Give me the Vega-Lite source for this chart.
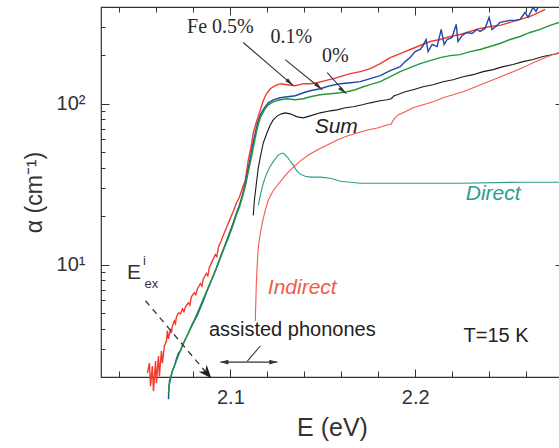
{
 "$schema": "https://vega.github.io/schema/vega-lite/v6.json",
 "width": 462, "height": 370,
 "autosize": "none",
 "padding": {"left": 101, "top": 7, "right": 0, "bottom": 71},
 "background": "white",
 "config": {
  "view": {"stroke": "#333", "strokeWidth": 1.2},
  "font": "Liberation Sans",
  "axis": {"labelFont": "Liberation Sans", "titleFont": "Liberation Sans", "tickColor": "#333", "tickWidth": 1, "labelColor": "#333", "titleColor": "#333", "domain": false, "grid": false}
 },
 "datasets": {
  "curves": [
   {"s":"Fe0.5","E":2.0551,"a":2.113},{"s":"Fe0.5","E":2.0562,"a":2.441},{"s":"Fe0.5","E":2.0568,"a":1.753},{"s":"Fe0.5","E":2.0578,"a":2.338},{"s":"Fe0.5","E":2.0584,"a":1.632},{"s":"Fe0.5","E":2.0595,"a":2.512},{"s":"Fe0.5","E":2.06,"a":1.83},{"s":"Fe0.5","E":2.0611,"a":2.699},{"s":"Fe0.5","E":2.0616,"a":2.024},{"s":"Fe0.5","E":2.0627,"a":2.901},{"s":"Fe0.5","E":2.0632,"a":2.441},{"s":"Fe0.5","E":2.0643,"a":3.117},{"s":"Fe0.5","E":2.0654,"a":3.35},{"s":"Fe0.5","E":2.0659,"a":3.869},{"s":"Fe0.5","E":2.0665,"a":3.447},{"s":"Fe0.5","E":2.0676,"a":3.981},{"s":"Fe0.5","E":2.0681,"a":3.75},{"s":"Fe0.5","E":2.0686,"a":4.157},{"s":"Fe0.5","E":2.0697,"a":4.467},{"s":"Fe0.5","E":2.0703,"a":4.3},{"s":"Fe0.5","E":2.0708,"a":4.732},{"s":"Fe0.5","E":2.0719,"a":5.012},{"s":"Fe0.5","E":2.073,"a":4.941},{"s":"Fe0.5","E":2.0741,"a":5.309},{"s":"Fe0.5","E":2.0749,"a":5.1},{"s":"Fe0.5","E":2.0757,"a":5.464},{"s":"Fe0.5","E":2.0773,"a":5.788},{"s":"Fe0.5","E":2.0781,"a":5.6},{"s":"Fe0.5","E":2.0789,"a":6.31},{"s":"Fe0.5","E":2.0805,"a":6.683},{"s":"Fe0.5","E":2.0813,"a":6.5},{"s":"Fe0.5","E":2.0822,"a":7.079},{"s":"Fe0.5","E":2.0838,"a":7.607},{"s":"Fe0.5","E":2.0846,"a":7.35},{"s":"Fe0.5","E":2.0854,"a":8.175},{"s":"Fe0.5","E":2.087,"a":8.786},{"s":"Fe0.5","E":2.0878,"a":8.5},{"s":"Fe0.5","E":2.0886,"a":9.578},{"s":"Fe0.5","E":2.0903,"a":10.59},{"s":"Fe0.5","E":2.0919,"a":11.55},{"s":"Fe0.5","E":2.0927,"a":11.2},{"s":"Fe0.5","E":2.0935,"a":12.77},{"s":"Fe0.5","E":2.0951,"a":14.13},{"s":"Fe0.5","E":2.0968,"a":15.85},{"s":"Fe0.5","E":2.0984,"a":17.53},{"s":"Fe0.5","E":2.1,"a":19.39},{"s":"Fe0.5","E":2.1016,"a":21.44},{"s":"Fe0.5","E":2.1032,"a":24.06},{"s":"Fe0.5","E":2.1049,"a":26.23},{"s":"Fe0.5","E":2.1065,"a":29.85},{"s":"Fe0.5","E":2.1081,"a":33.5},{"s":"Fe0.5","E":2.1097,"a":44.67},{"s":"Fe0.5","E":2.1114,"a":55.43},{"s":"Fe0.5","E":2.1124,"a":65.88},{"s":"Fe0.5","E":2.1141,"a":77.18},{"s":"Fe0.5","E":2.1157,"a":87.85},{"s":"Fe0.5","E":2.1178,"a":104.4},{"s":"Fe0.5","E":2.1195,"a":115.5},{"s":"Fe0.5","E":2.1216,"a":124.1},{"s":"Fe0.5","E":2.1243,"a":129.6},{"s":"Fe0.5","E":2.127,"a":133.4},{"s":"Fe0.5","E":2.1308,"a":131.5},{"s":"Fe0.5","E":2.1351,"a":129.6},{"s":"Fe0.5","E":2.1395,"a":133.4},{"s":"Fe0.5","E":2.1432,"a":133.4},{"s":"Fe0.5","E":2.147,"a":135.3},{"s":"Fe0.5","E":2.1514,"a":139.3},{"s":"Fe0.5","E":2.1557,"a":143.3},{"s":"Fe0.5","E":2.1595,"a":147.5},{"s":"Fe0.5","E":2.1649,"a":154.0},{"s":"Fe0.5","E":2.1703,"a":158.5},{"s":"Fe0.5","E":2.1757,"a":165.5},{"s":"Fe0.5","E":2.1811,"a":177.8},{"s":"Fe0.5","E":2.1865,"a":193.9},{"s":"Fe0.5","E":2.1919,"a":205.4},{"s":"Fe0.5","E":2.1973,"a":217.6},{"s":"Fe0.5","E":2.2027,"a":230.4},{"s":"Fe0.5","E":2.2081,"a":244.1},{"s":"Fe0.5","E":2.2135,"a":251.2},{"s":"Fe0.5","E":2.2189,"a":262.3},{"s":"Fe0.5","E":2.2243,"a":269.9},{"s":"Fe0.5","E":2.2297,"a":281.8},{"s":"Fe0.5","E":2.2351,"a":294.2},{"s":"Fe0.5","E":2.2405,"a":302.8},{"s":"Fe0.5","E":2.2459,"a":307.3},{"s":"Fe0.5","E":2.2514,"a":320.8},{"s":"Fe0.5","E":2.2568,"a":335.0},{"s":"Fe0.5","E":2.2622,"a":349.9},{"s":"Fe0.5","E":2.2659,"a":365.2},{"s":"Fe0.5","E":2.2703,"a":386.7},

   {"s":"Fe0.1","E":2.0665,"a":1.454},{"s":"Fe0.1","E":2.0668,"a":1.753},{"s":"Fe0.1","E":2.0676,"a":1.939},{"s":"Fe0.1","E":2.0686,"a":2.175},{"s":"Fe0.1","E":2.0697,"a":2.338},{"s":"Fe0.1","E":2.0708,"a":2.585},{"s":"Fe0.1","E":2.0719,"a":2.818},{"s":"Fe0.1","E":2.073,"a":2.901},{"s":"Fe0.1","E":2.0741,"a":3.162},{"s":"Fe0.1","E":2.0757,"a":3.447},{"s":"Fe0.1","E":2.0773,"a":3.758},{"s":"Fe0.1","E":2.0789,"a":4.097},{"s":"Fe0.1","E":2.0805,"a":4.467},{"s":"Fe0.1","E":2.0822,"a":4.87},{"s":"Fe0.1","E":2.0838,"a":5.385},{"s":"Fe0.1","E":2.0854,"a":5.957},{"s":"Fe0.1","E":2.087,"a":6.683},{"s":"Fe0.1","E":2.0886,"a":7.391},{"s":"Fe0.1","E":2.0903,"a":8.295},{"s":"Fe0.1","E":2.0919,"a":9.173},{"s":"Fe0.1","E":2.0935,"a":10.29},{"s":"Fe0.1","E":2.0951,"a":11.55},{"s":"Fe0.1","E":2.0968,"a":12.96},{"s":"Fe0.1","E":2.0984,"a":14.54},{"s":"Fe0.1","E":2.1,"a":16.31},{"s":"Fe0.1","E":2.1016,"a":18.3},{"s":"Fe0.1","E":2.1032,"a":20.83},{"s":"Fe0.1","E":2.1049,"a":23.38},{"s":"Fe0.1","E":2.1065,"a":26.99},{"s":"Fe0.1","E":2.1081,"a":32.08},{"s":"Fe0.1","E":2.1097,"a":39.81},{"s":"Fe0.1","E":2.1114,"a":50.12},{"s":"Fe0.1","E":2.113,"a":62.2},{"s":"Fe0.1","E":2.1146,"a":74.99},{"s":"Fe0.1","E":2.1162,"a":85.35},{"s":"Fe0.1","E":2.1184,"a":94.41},{"s":"Fe0.1","E":2.1205,"a":101.4},{"s":"Fe0.1","E":2.1232,"a":105.9},{"s":"Fe0.1","E":2.127,"a":109.0},{"s":"Fe0.1","E":2.1308,"a":110.6},{"s":"Fe0.1","E":2.1351,"a":112.2},{"s":"Fe0.1","E":2.1395,"a":117.2},{"s":"Fe0.1","E":2.1432,"a":120.6},{"s":"Fe0.1","E":2.1486,"a":124.1},{"s":"Fe0.1","E":2.1541,"a":129.6},{"s":"Fe0.1","E":2.1595,"a":133.4},{"s":"Fe0.1","E":2.1649,"a":135.3},{"s":"Fe0.1","E":2.1703,"a":137.3},{"s":"Fe0.1","E":2.1757,"a":143.3},{"s":"Fe0.1","E":2.1811,"a":149.6},{"s":"Fe0.1","E":2.1865,"a":160.8},{"s":"Fe0.1","E":2.1919,"a":170.3},{"s":"Fe0.1","E":2.1946,"a":183.0},{"s":"Fe0.1","E":2.1973,"a":193.9},{"s":"Fe0.1","E":2.2,"a":211.3},{"s":"Fe0.1","E":2.2027,"a":217.6},{"s":"Fe0.1","E":2.2043,"a":230.4},{"s":"Fe0.1","E":2.2059,"a":251.2},{"s":"Fe0.1","E":2.207,"a":211.3},{"s":"Fe0.1","E":2.2092,"a":233.8},{"s":"Fe0.1","E":2.2119,"a":227.1},{"s":"Fe0.1","E":2.2141,"a":290.1},{"s":"Fe0.1","E":2.2157,"a":233.8},{"s":"Fe0.1","E":2.2173,"a":251.2},{"s":"Fe0.1","E":2.22,"a":258.5},{"s":"Fe0.1","E":2.2222,"a":311.7},{"s":"Fe0.1","E":2.2232,"a":244.1},{"s":"Fe0.1","E":2.2254,"a":266.1},{"s":"Fe0.1","E":2.2281,"a":277.8},{"s":"Fe0.1","E":2.2308,"a":273.8},{"s":"Fe0.1","E":2.2335,"a":290.1},{"s":"Fe0.1","E":2.2351,"a":281.8},{"s":"Fe0.1","E":2.2378,"a":294.2},{"s":"Fe0.1","E":2.24,"a":344.7},{"s":"Fe0.1","E":2.2416,"a":290.1},{"s":"Fe0.1","E":2.2443,"a":307.3},{"s":"Fe0.1","E":2.2459,"a":320.8},{"s":"Fe0.1","E":2.2486,"a":325.4},{"s":"Fe0.1","E":2.2514,"a":330.2},{"s":"Fe0.1","E":2.2541,"a":330.2},{"s":"Fe0.1","E":2.2568,"a":335.0},{"s":"Fe0.1","E":2.2595,"a":370.5},{"s":"Fe0.1","E":2.2611,"a":344.7},{"s":"Fe0.1","E":2.2638,"a":398.0},{"s":"Fe0.1","E":2.2654,"a":375.8},{"s":"Fe0.1","E":2.2665,"a":398.0},

   {"s":"Fe0","E":2.0665,"a":1.585},{"s":"Fe0","E":2.067,"a":1.884},{"s":"Fe0","E":2.0681,"a":2.084},{"s":"Fe0","E":2.0692,"a":2.271},{"s":"Fe0","E":2.0708,"a":2.512},{"s":"Fe0","E":2.0724,"a":2.818},{"s":"Fe0","E":2.0741,"a":3.117},{"s":"Fe0","E":2.0757,"a":3.447},{"s":"Fe0","E":2.0773,"a":3.758},{"s":"Fe0","E":2.0789,"a":4.157},{"s":"Fe0","E":2.0805,"a":4.531},{"s":"Fe0","E":2.0822,"a":5.012},{"s":"Fe0","E":2.0838,"a":5.543},{"s":"Fe0","E":2.0854,"a":6.131},{"s":"Fe0","E":2.087,"a":6.78},{"s":"Fe0","E":2.0886,"a":7.499},{"s":"Fe0","E":2.0903,"a":8.295},{"s":"Fe0","E":2.0919,"a":9.173},{"s":"Fe0","E":2.0935,"a":10.14},{"s":"Fe0","E":2.0951,"a":11.38},{"s":"Fe0","E":2.0968,"a":12.77},{"s":"Fe0","E":2.0984,"a":14.13},{"s":"Fe0","E":2.1,"a":15.85},{"s":"Fe0","E":2.1016,"a":17.78},{"s":"Fe0","E":2.1032,"a":20.25},{"s":"Fe0","E":2.1049,"a":22.71},{"s":"Fe0","E":2.1065,"a":26.23},{"s":"Fe0","E":2.1081,"a":30.72},{"s":"Fe0","E":2.1097,"a":37.58},{"s":"Fe0","E":2.1114,"a":46.66},{"s":"Fe0","E":2.113,"a":57.88},{"s":"Fe0","E":2.1146,"a":70.79},{"s":"Fe0","E":2.1162,"a":81.75},{"s":"Fe0","E":2.1184,"a":91.73},{"s":"Fe0","E":2.1205,"a":98.57},{"s":"Fe0","E":2.1232,"a":102.9},{"s":"Fe0","E":2.127,"a":105.9},{"s":"Fe0","E":2.1308,"a":107.5},{"s":"Fe0","E":2.1351,"a":105.9},{"s":"Fe0","E":2.1395,"a":107.5},{"s":"Fe0","E":2.1432,"a":110.6},{"s":"Fe0","E":2.1486,"a":113.8},{"s":"Fe0","E":2.1541,"a":115.5},{"s":"Fe0","E":2.1595,"a":117.2},{"s":"Fe0","E":2.1632,"a":118.9},{"s":"Fe0","E":2.1676,"a":122.3},{"s":"Fe0","E":2.1719,"a":127.7},{"s":"Fe0","E":2.1757,"a":131.5},{"s":"Fe0","E":2.1811,"a":137.3},{"s":"Fe0","E":2.1865,"a":147.5},{"s":"Fe0","E":2.1919,"a":158.5},{"s":"Fe0","E":2.1973,"a":167.9},{"s":"Fe0","E":2.2027,"a":177.8},{"s":"Fe0","E":2.2081,"a":185.7},{"s":"Fe0","E":2.2135,"a":193.9},{"s":"Fe0","E":2.2189,"a":199.5},{"s":"Fe0","E":2.2243,"a":202.4},{"s":"Fe0","E":2.2297,"a":211.3},{"s":"Fe0","E":2.2351,"a":217.6},{"s":"Fe0","E":2.2405,"a":227.1},{"s":"Fe0","E":2.2459,"a":237.1},{"s":"Fe0","E":2.2514,"a":251.2},{"s":"Fe0","E":2.2568,"a":262.3},{"s":"Fe0","E":2.2622,"a":277.8},{"s":"Fe0","E":2.2676,"a":290.1},{"s":"Fe0","E":2.273,"a":307.3},{"s":"Fe0","E":2.2795,"a":325.4},

   {"s":"Sum","E":2.1124,"a":20.25},{"s":"Sum","E":2.113,"a":25.12},{"s":"Sum","E":2.1141,"a":32.08},{"s":"Sum","E":2.1151,"a":39.81},{"s":"Sum","E":2.1162,"a":46.66},{"s":"Sum","E":2.1178,"a":57.05},{"s":"Sum","E":2.12,"a":66.83},{"s":"Sum","E":2.1216,"a":73.91},{"s":"Sum","E":2.1232,"a":79.43},{"s":"Sum","E":2.1254,"a":84.14},{"s":"Sum","E":2.1276,"a":86.6},{"s":"Sum","E":2.1297,"a":87.86},{"s":"Sum","E":2.1324,"a":86.6},{"s":"Sum","E":2.1362,"a":82.94},{"s":"Sum","E":2.1395,"a":81.75},{"s":"Sum","E":2.1432,"a":84.14},{"s":"Sum","E":2.1486,"a":87.86},{"s":"Sum","E":2.1541,"a":90.43},{"s":"Sum","E":2.1578,"a":91.73},{"s":"Sum","E":2.1622,"a":94.41},{"s":"Sum","E":2.1665,"a":95.78},{"s":"Sum","E":2.1714,"a":98.57},{"s":"Sum","E":2.1757,"a":101.4},{"s":"Sum","E":2.1811,"a":104.4},{"s":"Sum","E":2.1849,"a":105.9},{"s":"Sum","E":2.187,"a":107.5},{"s":"Sum","E":2.1886,"a":112.2},{"s":"Sum","E":2.1903,"a":113.8},{"s":"Sum","E":2.1946,"a":118.9},{"s":"Sum","E":2.1989,"a":122.3},{"s":"Sum","E":2.2043,"a":127.7},{"s":"Sum","E":2.2097,"a":131.5},{"s":"Sum","E":2.2151,"a":137.3},{"s":"Sum","E":2.2205,"a":141.3},{"s":"Sum","E":2.2259,"a":147.5},{"s":"Sum","E":2.2314,"a":151.8},{"s":"Sum","E":2.2368,"a":158.5},{"s":"Sum","E":2.2422,"a":163.1},{"s":"Sum","E":2.2476,"a":170.3},{"s":"Sum","E":2.253,"a":175.4},{"s":"Sum","E":2.2584,"a":183.0},{"s":"Sum","E":2.2638,"a":188.4},{"s":"Sum","E":2.2692,"a":196.7},{"s":"Sum","E":2.2746,"a":202.4},{"s":"Sum","E":2.2795,"a":208.4},

   {"s":"Direct","E":2.1151,"a":23.38},{"s":"Direct","E":2.1162,"a":26.99},{"s":"Direct","E":2.1178,"a":32.08},{"s":"Direct","E":2.1195,"a":36.52},{"s":"Direct","E":2.1216,"a":40.97},{"s":"Direct","E":2.1238,"a":44.67},{"s":"Direct","E":2.1259,"a":48.0},{"s":"Direct","E":2.1281,"a":49.4},{"s":"Direct","E":2.1292,"a":48.7},{"s":"Direct","E":2.1308,"a":46.66},{"s":"Direct","E":2.1324,"a":44.04},{"s":"Direct","E":2.1341,"a":41.57},{"s":"Direct","E":2.1357,"a":38.68},{"s":"Direct","E":2.1378,"a":36.52},{"s":"Direct","E":2.1405,"a":35.48},{"s":"Direct","E":2.1432,"a":34.98},{"s":"Direct","E":2.1486,"a":34.98},{"s":"Direct","E":2.1541,"a":34.47},{"s":"Direct","E":2.1595,"a":33.02},{"s":"Direct","E":2.1649,"a":32.55},{"s":"Direct","E":2.1703,"a":32.08},{"s":"Direct","E":2.1919,"a":32.08},{"s":"Direct","E":2.2243,"a":32.08},{"s":"Direct","E":2.2568,"a":32.55},{"s":"Direct","E":2.2795,"a":32.55},

   {"s":"Indirect","E":2.1135,"a":4.467},{"s":"Indirect","E":2.1138,"a":5.957},{"s":"Indirect","E":2.1141,"a":7.943},{"s":"Indirect","E":2.1146,"a":10.29},{"s":"Indirect","E":2.1151,"a":12.77},{"s":"Indirect","E":2.1162,"a":15.62},{"s":"Indirect","E":2.1173,"a":18.3},{"s":"Indirect","E":2.1189,"a":21.75},{"s":"Indirect","E":2.1205,"a":25.12},{"s":"Indirect","E":2.1227,"a":28.18},{"s":"Indirect","E":2.1254,"a":31.17},{"s":"Indirect","E":2.1281,"a":33.98},{"s":"Indirect","E":2.1308,"a":37.05},{"s":"Indirect","E":2.1341,"a":40.38},{"s":"Indirect","E":2.1378,"a":44.04},{"s":"Indirect","E":2.1422,"a":48.0},{"s":"Indirect","E":2.147,"a":51.58},{"s":"Indirect","E":2.1524,"a":55.43},{"s":"Indirect","E":2.1578,"a":59.57},{"s":"Indirect","E":2.1632,"a":63.1},{"s":"Indirect","E":2.1686,"a":65.88},{"s":"Indirect","E":2.1741,"a":68.79},{"s":"Indirect","E":2.1795,"a":70.79},{"s":"Indirect","E":2.1849,"a":73.91},{"s":"Indirect","E":2.187,"a":74.99},{"s":"Indirect","E":2.1886,"a":80.58},{"s":"Indirect","E":2.1908,"a":85.35},{"s":"Indirect","E":2.1946,"a":89.13},{"s":"Indirect","E":2.1989,"a":94.41},{"s":"Indirect","E":2.2043,"a":98.57},{"s":"Indirect","E":2.2097,"a":102.9},{"s":"Indirect","E":2.2151,"a":109.0},{"s":"Indirect","E":2.2205,"a":113.8},{"s":"Indirect","E":2.2259,"a":118.9},{"s":"Indirect","E":2.2314,"a":125.9},{"s":"Indirect","E":2.2368,"a":133.4},{"s":"Indirect","E":2.2422,"a":141.3},{"s":"Indirect","E":2.2476,"a":149.6},{"s":"Indirect","E":2.253,"a":158.5},{"s":"Indirect","E":2.2584,"a":167.9},{"s":"Indirect","E":2.2638,"a":180.3},{"s":"Indirect","E":2.2692,"a":191.1},{"s":"Indirect","E":2.2746,"a":202.4},{"s":"Indirect","E":2.2795,"a":211.3}
  ],
  "arrows": [
   {"E":2.107,"a":240.6,"E2":2.1341,"a2":129.6},
   {"E":2.1297,"a":188.4,"E2":2.1497,"a2":122.3},
   {"E":2.1524,"a":156.2,"E2":2.1627,"a2":115.5}
  ]
 },
 "layer": [
  {
   "data": {"name": "curves"},
   "transform": [{"filter": "datum.s == 'Fe0.5'"}],
   "mark": {"type": "line", "color": "#f03c2c", "strokeWidth": 1.4, "clip": false},
   "encoding": {
    "x": {"field": "E", "type": "quantitative", "scale": {"type": "linear", "domain": [2.03, 2.28], "nice": false, "zero": false},
          "axis": {"orient": "bottom", "values": [2.1, 2.2], "format": ".1f", "ticks": false, "labelPadding": 10, "labelFontSize": 20, "labelFlush": false, "title": "E (eV)", "titleFontSize": 25, "titleFontWeight": "normal", "titlePadding": 8}},
    "y": {"field": "a", "type": "quantitative", "scale": {"type": "log", "domain": [2, 400], "nice": false},
          "axis": {"orient": "left", "values": [10, 100], "ticks": false, "labelExpr": "datum.value == 10 ? '10¹' : '10²'", "labelPadding": 16, "labelFontSize": 20, "title": "α (cm⁻¹)", "titleFontSize": 23, "titleFontWeight": "normal", "titlePadding": 10}}
   }
  },
  {
   "data": {"name": "curves"},
   "transform": [{"filter": "datum.s == 'Fe0.1'"}],
   "mark": {"type": "line", "color": "#2347a8", "strokeWidth": 1.4, "clip": false},
   "encoding": {
    "x": {"field": "E", "type": "quantitative", "scale": {"type": "linear", "domain": [2.03, 2.28], "nice": false, "zero": false},
          "axis": {"orient": "bottom", "values": [2.1, 2.2], "labels": false, "tickSize": -8, "title": null}},
    "y": {"field": "a", "type": "quantitative", "scale": {"type": "log", "domain": [2, 400], "nice": false},
          "axis": {"orient": "left", "values": [10, 100], "labels": false, "tickSize": -8, "title": null}}
   }
  },
  {
   "data": {"name": "curves"},
   "transform": [{"filter": "datum.s == 'Fe0'"}],
   "mark": {"type": "line", "color": "#22993a", "strokeWidth": 1.4, "clip": false},
   "encoding": {
    "x": {"field": "E", "type": "quantitative", "scale": {"type": "linear", "domain": [2.03, 2.28], "nice": false, "zero": false},
          "axis": {"orient": "bottom", "values": [2.04, 2.06, 2.08, 2.12, 2.14, 2.16, 2.18, 2.22, 2.24, 2.26], "labels": false, "tickSize": -6, "title": null}},
    "y": {"field": "a", "type": "quantitative", "scale": {"type": "log", "domain": [2, 400], "nice": false},
          "axis": {"orient": "left", "values": [3, 4, 5, 6, 7, 8, 9, 20, 30, 40, 50, 60, 70, 80, 90, 200, 300], "labels": false, "tickSize": -4, "title": null}}
   }
  },
  {
   "data": {"name": "curves"},
   "transform": [{"filter": "datum.s == 'Sum' || datum.s == 'Direct' || datum.s == 'Indirect'"}],
   "mark": {"type": "line", "strokeWidth": 1.1, "clip": false},
   "encoding": {
    "x": {"field": "E", "type": "quantitative", "scale": {"type": "linear", "domain": [2.03, 2.28], "nice": false, "zero": false},
          "axis": {"orient": "top", "values": [2.1, 2.2], "labels": false, "tickSize": -8, "title": null}},
    "y": {"field": "a", "type": "quantitative", "scale": {"type": "log", "domain": [2, 400], "nice": false},
          "axis": {"orient": "right", "values": [10, 100], "labels": false, "tickSize": -8, "title": null}},
    "color": {"field": "s", "type": "nominal", "scale": {"domain": ["Sum", "Direct", "Indirect"], "range": ["#1a1a1a", "#2a9d8f", "#f25a4a"]}, "legend": null}
   }
  },
  {
   "data": {"name": "arrows"},
   "mark": {"type": "rule", "color": "#333", "strokeWidth": 1.1, "clip": false},
   "encoding": {
    "x": {"field": "E", "type": "quantitative", "scale": {"type": "linear", "domain": [2.03, 2.28], "nice": false, "zero": false},
          "axis": {"orient": "top", "values": [2.04, 2.06, 2.08, 2.12, 2.14, 2.16, 2.18, 2.22, 2.24, 2.26], "labels": false, "tickSize": -5, "title": null}},
    "y": {"field": "a", "type": "quantitative", "scale": {"type": "log", "domain": [2, 400], "nice": false},
          "axis": {"orient": "right", "values": [3, 4, 5, 6, 7, 8, 9, 20, 30, 40, 50, 60, 70, 80, 90, 200, 300], "labels": false, "tickSize": -4, "title": null}},
    "x2": {"field": "E2"},
    "y2": {"field": "a2"}
   }
  },
  {
   "data": {"name": "arrows"},
   "mark": {"type": "point", "shape": "M0,0 L0.22,1 L-0.22,1 Z", "filled": true, "opacity": 1, "color": "#333", "size": 324, "angle": 132, "clip": false},
   "encoding": {
    "x": {"field": "E2", "type": "quantitative", "scale": {"type": "linear", "domain": [2.03, 2.28], "nice": false, "zero": false}, "axis": null},
    "y": {"field": "a2", "type": "quantitative", "scale": {"type": "log", "domain": [2, 400], "nice": false}, "axis": null}
   }
  },
  {
   "data": {"values": [{"E": 2.0541, "a": 5.957, "E2": 2.0885, "a2": 2.03}]},
   "mark": {"type": "rule", "color": "#333", "strokeWidth": 1.3, "strokeDash": [6, 5], "clip": false},
   "encoding": {
    "x": {"field": "E", "type": "quantitative", "scale": {"type": "linear", "domain": [2.03, 2.28], "nice": false, "zero": false}, "axis": null},
    "y": {"field": "a", "type": "quantitative", "scale": {"type": "log", "domain": [2, 400], "nice": false}, "axis": null},
    "x2": {"field": "E2"},
    "y2": {"field": "a2"}
   }
  },
  {
   "data": {"values": [{"E": 2.0897, "a": 1.967}]},
   "mark": {"type": "point", "shape": "M0,0 L0.4,1 L0,0.7 L-0.4,1 Z", "filled": true, "opacity": 1, "color": "#222", "size": 700, "angle": 139, "clip": false},
   "encoding": {
    "x": {"field": "E", "type": "quantitative", "scale": {"type": "linear", "domain": [2.03, 2.28], "nice": false, "zero": false}, "axis": null},
    "y": {"field": "a", "type": "quantitative", "scale": {"type": "log", "domain": [2, 400], "nice": false}, "axis": null}
   }
  },
  {
   "data": {"values": [{"E": 2.0946, "a": 2.476, "E2": 2.1254, "a2": 2.476}, {"E": 2.1092, "a": 2.512, "E2": 2.1162, "a2": 3.117}]},
   "mark": {"type": "rule", "color": "#333", "strokeWidth": 1.1, "clip": false},
   "encoding": {
    "x": {"field": "E", "type": "quantitative", "scale": {"type": "linear", "domain": [2.03, 2.28], "nice": false, "zero": false}, "axis": null},
    "y": {"field": "a", "type": "quantitative", "scale": {"type": "log", "domain": [2, 400], "nice": false}, "axis": null},
    "x2": {"field": "E2"},
    "y2": {"field": "a2"}
   }
  },
  {
   "data": {"values": [{"E": 2.0946, "a": 2.476}]},
   "mark": {"type": "point", "shape": "M0,0 L0.3,1 L-0.3,1 Z", "filled": true, "opacity": 1, "color": "#333", "size": 256, "angle": 270},
   "encoding": {
    "x": {"field": "E", "type": "quantitative", "scale": {"type": "linear", "domain": [2.03, 2.28], "nice": false, "zero": false}, "axis": null},
    "y": {"field": "a", "type": "quantitative", "scale": {"type": "log", "domain": [2, 400], "nice": false}, "axis": null}
   }
  },
  {
   "data": {"values": [{"E": 2.1254, "a": 2.476}]},
   "mark": {"type": "point", "shape": "M0,0 L0.3,1 L-0.3,1 Z", "filled": true, "opacity": 1, "color": "#333", "size": 256, "angle": 90},
   "encoding": {
    "x": {"field": "E", "type": "quantitative", "scale": {"type": "linear", "domain": [2.03, 2.28], "nice": false, "zero": false}, "axis": null},
    "y": {"field": "a", "type": "quantitative", "scale": {"type": "log", "domain": [2, 400], "nice": false}, "axis": null}
   }
  },
  {
   "data": {"values": [{"t": "Fe 0.5%", "E": 2.0946, "a": 298.5}, {"t": "0.1%", "E": 2.133, "a": 258.5}, {"t": "0%", "E": 2.1568, "a": 199.5}]},
   "mark": {"type": "text", "font": "Liberation Serif", "fontSize": 20, "color": "#2a2a2a", "align": "center", "baseline": "middle"},
   "encoding": {
    "x": {"field": "E", "type": "quantitative", "scale": {"type": "linear", "domain": [2.03, 2.28], "nice": false, "zero": false}, "axis": null},
    "y": {"field": "a", "type": "quantitative", "scale": {"type": "log", "domain": [2, 400], "nice": false}, "axis": null},
    "text": {"field": "t"}
   }
  },
  {
   "data": {"values": [{"t": "Sum", "E": 2.1573, "a": 71.8}]},
   "mark": {"type": "text", "fontSize": 21, "fontStyle": "italic", "color": "#222", "align": "center", "baseline": "middle"},
   "encoding": {
    "x": {"field": "E", "type": "quantitative", "scale": {"type": "linear", "domain": [2.03, 2.28], "nice": false, "zero": false}, "axis": null},
    "y": {"field": "a", "type": "quantitative", "scale": {"type": "log", "domain": [2, 400], "nice": false}, "axis": null},
    "text": {"field": "t"}
   }
  },
  {
   "data": {"values": [{"t": "Direct", "E": 2.2422, "a": 27.38}]},
   "mark": {"type": "text", "fontSize": 21, "fontStyle": "italic", "color": "#2a9d8f", "align": "center", "baseline": "middle"},
   "encoding": {
    "x": {"field": "E", "type": "quantitative", "scale": {"type": "linear", "domain": [2.03, 2.28], "nice": false, "zero": false}, "axis": null},
    "y": {"field": "a", "type": "quantitative", "scale": {"type": "log", "domain": [2, 400], "nice": false}, "axis": null},
    "text": {"field": "t"}
   }
  },
  {
   "data": {"values": [{"t": "Indirect", "E": 2.1389, "a": 7.18}]},
   "mark": {"type": "text", "fontSize": 21, "fontStyle": "italic", "color": "#f25a4a", "align": "center", "baseline": "middle"},
   "encoding": {
    "x": {"field": "E", "type": "quantitative", "scale": {"type": "linear", "domain": [2.03, 2.28], "nice": false, "zero": false}, "axis": null},
    "y": {"field": "a", "type": "quantitative", "scale": {"type": "log", "domain": [2, 400], "nice": false}, "axis": null},
    "text": {"field": "t"}
   }
  },
  {
   "data": {"values": [{"t": "assisted phonones", "E": 2.1335, "a": 3.925}, {"t": "T=15 K", "E": 2.2438, "a": 3.6}]},
   "mark": {"type": "text", "fontSize": 20, "color": "#222", "align": "center", "baseline": "middle"},
   "encoding": {
    "x": {"field": "E", "type": "quantitative", "scale": {"type": "linear", "domain": [2.03, 2.28], "nice": false, "zero": false}, "axis": null},
    "y": {"field": "a", "type": "quantitative", "scale": {"type": "log", "domain": [2, 400], "nice": false}, "axis": null},
    "text": {"field": "t"}
   }
  },
  {
   "data": {"values": [{"t": "E", "E": 2.0478, "a": 8.85}]},
   "mark": {"type": "text", "fontSize": 21, "color": "#333", "align": "center", "baseline": "middle"},
   "encoding": {
    "x": {"field": "E", "type": "quantitative", "scale": {"type": "linear", "domain": [2.03, 2.28], "nice": false, "zero": false}, "axis": null},
    "y": {"field": "a", "type": "quantitative", "scale": {"type": "log", "domain": [2, 400], "nice": false}, "axis": null},
    "text": {"field": "t"}
   }
  },
  {
   "data": {"values": [{"t": "i", "E": 2.0535, "a": 10.59}, {"t": "ex", "E": 2.0573, "a": 7.607}]},
   "mark": {"type": "text", "fontSize": 13, "color": "#333", "align": "center", "baseline": "middle"},
   "encoding": {
    "x": {"field": "E", "type": "quantitative", "scale": {"type": "linear", "domain": [2.03, 2.28], "nice": false, "zero": false}, "axis": null},
    "y": {"field": "a", "type": "quantitative", "scale": {"type": "log", "domain": [2, 400], "nice": false}, "axis": null},
    "text": {"field": "t"}
   }
  }
 ],
 "resolve": {"axis": {"x": "independent", "y": "independent"}}
}
